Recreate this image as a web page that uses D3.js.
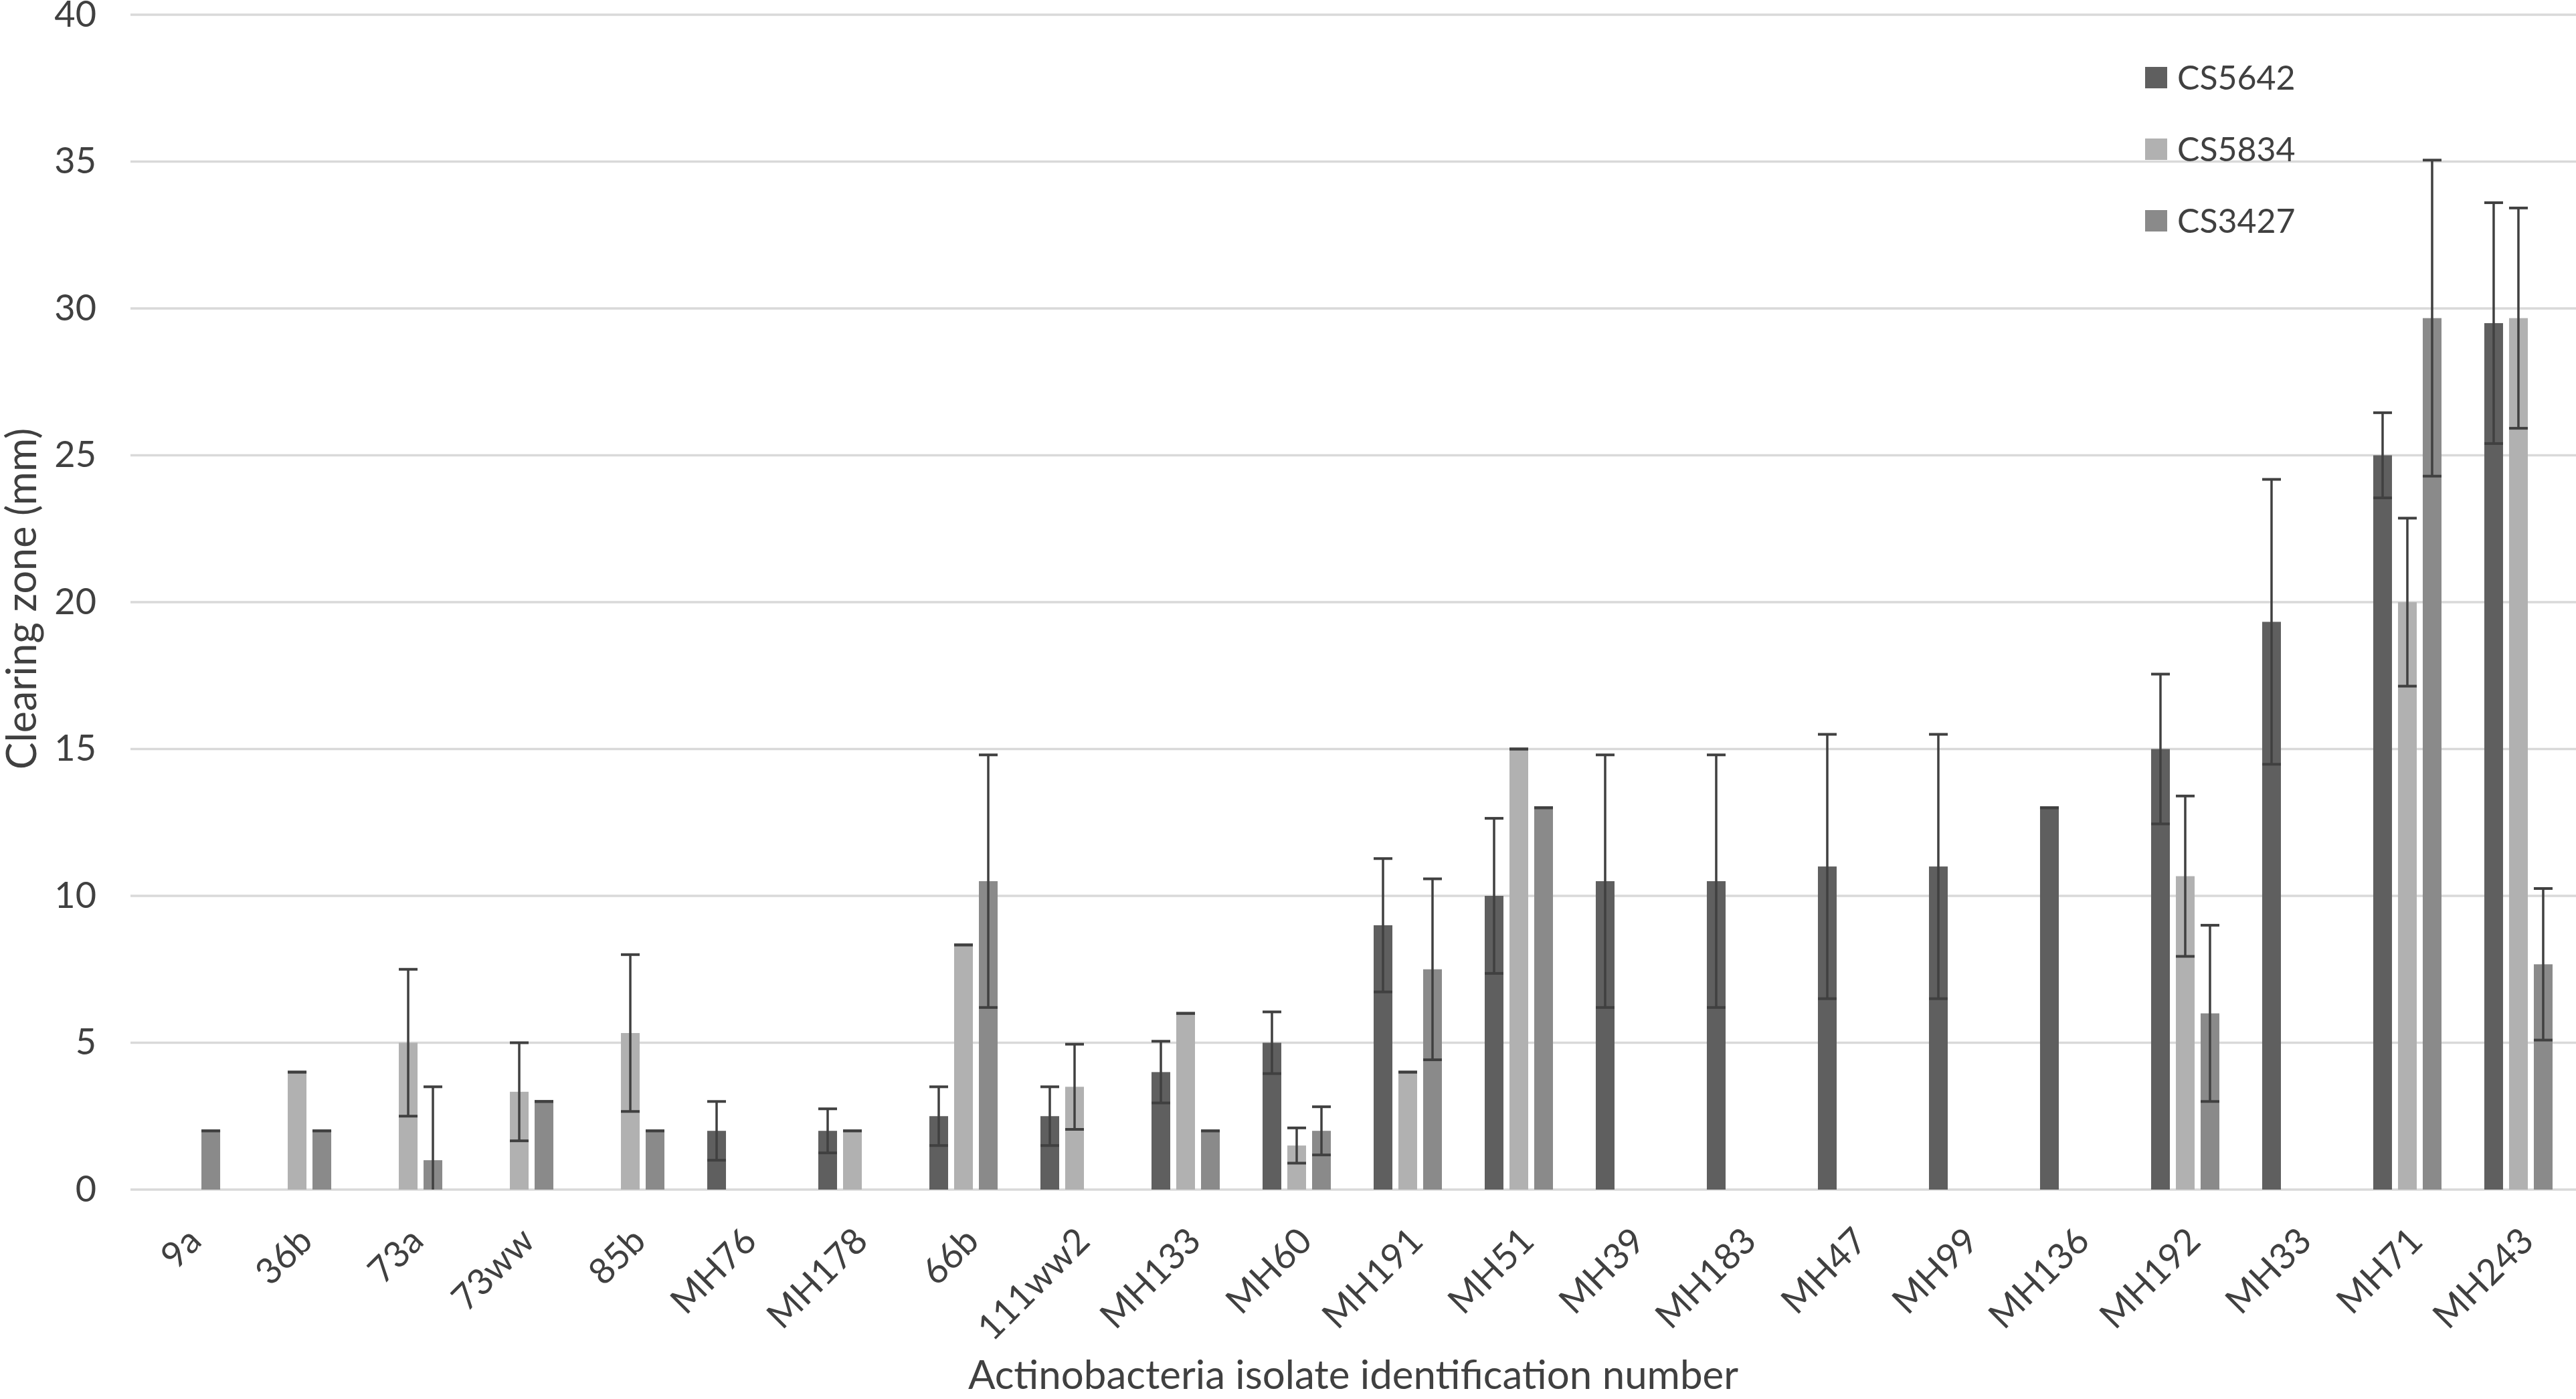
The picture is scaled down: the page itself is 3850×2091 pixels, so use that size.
<!DOCTYPE html>
<html>
<head>
<meta charset="utf-8">
<script src="https://cdn.jsdelivr.net/npm/d3@7/dist/d3.min.js"></script>
<style>
  html, body { margin: 0; padding: 0; background: #fff; }
  svg { display: block; font-family: Lato, "Open Sans", sans-serif; }
</style>
</head>
<body>
<svg id="chart" width="3850" height="2091"></svg>
<script>
// isolates on the x axis
var categories = ["9a", "36b", "73a", "73ww", "85b", "MH76", "MH178", "66b", "111ww2", "MH133", "MH60",
  "MH191", "MH51", "MH39", "MH183", "MH47", "MH99", "MH136", "MH192", "MH33", "MH71", "MH243"];

var seriesNames = ["CS5642", "CS5834", "CS3427"];
var seriesColors = ["#5f5f5f", "#b1b1b1", "#8a8a8a"];

// clearing zone (mm)
var cs5642 = [0, 0, 0, 0, 0, 2, 2, 2.5, 2.5, 4, 5, 9, 10, 10.5, 10.5, 11, 11, 13, 15, 19.33, 25, 29.5];
var cs5834 = [0, 4, 5, 3.33, 5.33, 0, 2, 8.33, 3.5, 6, 1.5, 4, 15, 0, 0, 0, 0, 0, 10.67, 0, 20, 29.67];
var cs3427 = [2, 2, 1, 3, 2, 0, 0, 10.5, 0, 2, 2, 7.5, 13, 0, 0, 0, 0, 0, 6, 0, 29.67, 7.67];

// error bar half-lengths
var cs5642Err = [0, 0, 0, 0, 0, 1, 0.75, 1, 1, 1.05, 1.05, 2.27, 2.64, 4.3, 4.3, 4.5, 4.5, 0, 2.55, 4.85, 1.45, 4.1];
var cs5834Err = [0, 0, 2.5, 1.67, 2.67, 0, 0, 0, 1.45, 0, 0.6, 0, 0, 0, 0, 0, 0, 0, 2.73, 0, 2.86, 3.75];
var cs3427Err = [0, 0, 2.5, 0, 0, 0, 0, 4.3, 0, 0, 0.82, 3.08, 0, 0, 0, 0, 0, 0, 3, 0, 5.38, 2.58];

var yTicks = [0, 5, 10, 15, 20, 25, 30, 35, 40];

var values = [cs5642, cs5834, cs3427];
var errors = [cs5642Err, cs5834Err, cs3427Err];

var rows = [];
categories.forEach(function (c, i) {
  seriesNames.forEach(function (s, j) {
    rows.push({ cat: c, series: s, value: values[j][i], err: errors[j][i], color: seriesColors[j] });
  });
});

var svg = d3.select("#chart");
var plotLeft = 195, plotRight = 3847, plotTop = 22, plotBottom = 1778;
var textColor = "#404040";

var x0 = d3.scaleBand().domain(categories).range([plotLeft, plotRight])
  .paddingInner(0.3855).paddingOuter(0.193);
var x1 = d3.scaleBand().domain(seriesNames).range([0, x0.bandwidth()]).paddingInner(0.243);
var y = d3.scaleLinear().domain([0, 40]).range([plotBottom, plotTop]);

// gridlines
svg.append("g").selectAll("line").data(yTicks).enter().append("line")
  .attr("x1", plotLeft).attr("x2", 3850)
  .attr("y1", function (d) { return y(d); })
  .attr("y2", function (d) { return y(d); })
  .attr("stroke", "#d9d9d9").attr("stroke-width", 3.5);

// y axis labels
var yAxis = svg.append("g").attr("transform", "translate(144,0)")
  .call(d3.axisLeft(y).tickValues(yTicks).tickSize(0).tickPadding(0));
yAxis.select(".domain").remove();
yAxis.selectAll("text").attr("font-size", 54).attr("fill", textColor)
  .attr("font-family", "Lato, sans-serif");

// x axis labels, rotated
var xAxis = svg.append("g").attr("transform", "translate(0," + plotBottom + ")")
  .call(d3.axisBottom(x0).tickSize(0));
xAxis.select(".domain").remove();
xAxis.selectAll("text")
  .attr("font-size", 54).attr("fill", textColor).attr("font-family", "Lato, sans-serif")
  .attr("text-anchor", "end").attr("dy", null).attr("y", null)
  .attr("transform", "translate(26,80) rotate(-45)");

// bars
var bars = rows.filter(function (d) { return d.value > 0; });
svg.append("g").selectAll("rect").data(bars).enter().append("rect")
  .attr("x", function (d) { return x0(d.cat) + x1(d.series); })
  .attr("width", x1.bandwidth())
  .attr("y", function (d) { return y(d.value); })
  .attr("height", function (d) { return y(0) - y(d.value); })
  .attr("fill", function (d) { return d.color; });

// error bars (lower end stops at the axis)
function lo(d) { return Math.max(0, d.value - d.err); }
function hi(d) { return d.value + d.err; }
function cx(d) { return x0(d.cat) + x1(d.series) + x1.bandwidth() / 2; }

var eb = svg.append("g").attr("stroke", "#404040");
var ebs = eb.selectAll("g").data(bars).enter().append("g");
ebs.append("line")
  .attr("x1", cx).attr("x2", cx)
  .attr("y1", function (d) { return y(lo(d)); })
  .attr("y2", function (d) { return y(hi(d)); })
  .attr("stroke-width", 3.5);
ebs.append("line")
  .attr("x1", function (d) { return x0(d.cat) + x1(d.series); })
  .attr("x2", function (d) { return x0(d.cat) + x1(d.series) + x1.bandwidth(); })
  .attr("y1", function (d) { return y(hi(d)); })
  .attr("y2", function (d) { return y(hi(d)); })
  .attr("stroke-width", 4);
ebs.filter(function (d) { return d.value - d.err > 0; }).append("line")
  .attr("x1", function (d) { return x0(d.cat) + x1(d.series); })
  .attr("x2", function (d) { return x0(d.cat) + x1(d.series) + x1.bandwidth(); })
  .attr("y1", function (d) { return y(lo(d)); })
  .attr("y2", function (d) { return y(lo(d)); })
  .attr("stroke-width", 4);

// legend
var legend = svg.append("g").attr("transform", "translate(3206,100)");
var item = legend.selectAll("g").data(seriesNames).enter().append("g")
  .attr("transform", function (d, i) { return "translate(0," + i * 107 + ")"; });
item.append("rect").attr("width", 33).attr("height", 32)
  .attr("fill", function (d, i) { return seriesColors[i]; });
item.append("text").attr("x", 48).attr("y", 16).attr("dy", "0.36em")
  .attr("font-size", 50).attr("fill", textColor)
  .text(function (d) { return d; });

// axis titles
svg.append("text").attr("x", (plotLeft + 3850) / 2).attr("y", 2076)
  .attr("text-anchor", "middle").attr("font-size", 60).attr("fill", textColor)
  .text("Actinobacteria isolate identification number");
svg.append("text").attr("transform", "translate(54,895) rotate(-90)")
  .attr("text-anchor", "middle").attr("font-size", 61).attr("fill", textColor)
  .text("Clearing zone (mm)");
</script>
</body>
</html>
